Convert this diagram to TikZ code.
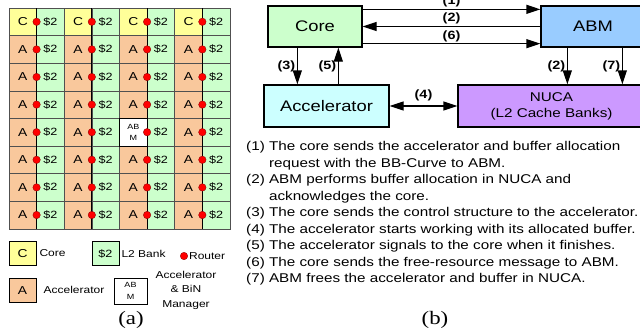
\documentclass[tikz,border=0pt]{standalone}
\usepackage{fontspec}
\setmainfont[FakeStretch=1.2]{Liberation Sans}
\newfontfamily\capfont[FakeStretch=1.2]{Liberation Serif}
\usetikzlibrary{positioning}
\usetikzlibrary{arrows.meta}
\definecolor{coreyel}{HTML}{FFFF99}
\definecolor{accorange}{HTML}{F9C89C}
\definecolor{bankgreen}{HTML}{CCFFCC}
\definecolor{abmblue}{HTML}{99CCFF}
\definecolor{acccyan}{HTML}{CCFFFF}
\definecolor{nucapurple}{HTML}{CC99FF}
\definecolor{gridgray}{HTML}{505050}

\begin{document}
\begin{tikzpicture}[x=1pt,y=-1pt,
  cell/.style={draw=gridgray,line width=0.6pt,minimum width=27.6pt,minimum height=27.6pt,inner sep=0pt,outer sep=0pt,anchor=north west,font=\fontsize{11.5}{11.5}\selectfont},
  bank/.style={cell,fill=bankgreen,font=\fontsize{10.5}{10.5}\selectfont},
  router/.style={circle,fill=red,draw=red!50!black,line width=0.3pt,minimum size=7.5pt,inner sep=0pt},
  link/.style={line width=1pt,black},
  key/.style={draw=black,line width=0.6pt,minimum width=27pt,minimum height=23.5pt,inner sep=0pt},
  keytext/.style={font=\fontsize{10}{12.5}\selectfont,inner sep=1pt},
  block/.style={draw,line width=1.3pt,minimum height=41pt,inner sep=0pt,font=\fontsize{15.3}{15.3}\selectfont},
  arr/.style={line width=1.3pt,-{Triangle[length=14pt,width=9pt]}},
  dblarr/.style={line width=1.3pt,{Triangle[length=14pt,width=9pt]}-{Triangle[length=14pt,width=9pt]}},
  lbl/.style={font=\bfseries\fontsize{12}{12}\selectfont,inner sep=1.5pt}]
  \useasboundingbox (0,0) rectangle (640,335);
  % mesh of tiles
  \foreach \i in {0,...,3}{
    \foreach \j in {0,...,7}{
      \ifnum\j=0
        \node[cell,fill=coreyel] (pe-\i-\j) at (9+55.25*\i,8+27.6*\j) {C};
      \else
        \node[cell,fill=accorange] (pe-\i-\j) at (9+55.25*\i,8+27.6*\j) {A};
      \fi
      \node[bank,right=0pt of pe-\i-\j] (l2-\i-\j) {\$2};
    }
  }
  \node[cell,fill=white,draw=black,line width=1pt,font=\fontsize{7.5}{9}\selectfont,align=center] (pe-2-4) at (9+55.25*2,8+27.6*4) {AB\\[2.5pt]M};
  \foreach \i in {0,...,3}{
    \draw[link] (pe-\i-0.north east) -- (pe-\i-7.south east);
    \foreach \j in {0,...,7}
      \node[router] (r-\i-\j) at (pe-\i-\j.east) {};
  }
  % legend
  \node[key,fill=coreyel,font=\fontsize{11.5}{11.5}\selectfont] (kc) at (22.5,253.5) {C};
  \node[keytext,right=2pt of kc] (kct) {Core};
  \node[key,fill=bankgreen,font=\fontsize{10.5}{10.5}\selectfont] (kb) at (105.5,253.5) {\$2};
  \node[keytext,right=1pt of kb] (kbt) {L2 Bank};
  \node[router] (kr) at (184,256) {};
  \node[keytext,right=0pt of kr] (krt) {Router};
  \node[key,fill=accorange,font=\fontsize{11.5}{11.5}\selectfont] (ka) at (22.5,290.5) {A};
  \node[keytext] (kat) at (74,290) {Accelerator};
  \node[key,fill=white,minimum width=33pt,minimum height=26pt,align=center,font=\fontsize{7.5}{9}\selectfont] (km) at (130.5,291) {AB\\[2.5pt]M};
  \node[keytext,align=center,font=\fontsize{10}{14.5}\selectfont] (kmt) at (186,290) {Accelerator\\\& BiN\\Manager};
  \node[font=\capfont\fontsize{19}{19}\selectfont] (capa) at (131,320) {(a)};
  % flow
  \node[block,fill=bankgreen,minimum width=94pt] (core) at (315,26.5) {Core};
  \node[block,fill=abmblue,minimum width=104pt] (abm) at (593,26.5) {ABM};
  \node[block,fill=acccyan,minimum width=125pt,minimum height=42pt] (acc) at (326.5,106) {Accelerator};
  \node[block,fill=nucapurple,minimum width=187pt,minimum height=42pt,align=center,font=\fontsize{12.7}{16}\selectfont] (nuca) at (551.5,106) {NUCA\\(L2 Cache Banks)};
  \draw[arr] ([yshift=-4pt]core.north east) -- node[lbl,above]{(1)} ([yshift=-4pt]abm.north west);
  \draw[arr] (abm.west) -- node[lbl,above]{(2)} (core.east);
  \draw[arr] ([yshift=4pt]core.south east) -- node[lbl,above]{(6)} ([yshift=4pt]abm.south west);
  \draw[arr] ([xshift=30pt]core.south west) -- node[lbl,left]{(3)} ([xshift=30pt]core.south west |- acc.north);
  \draw[arr] ([xshift=75pt]acc.north west) -- node[lbl,left]{(5)} ([xshift=75pt]acc.north west |- core.south);
  \draw[arr] ([xshift=27pt]abm.south west) -- node[lbl,left]{(2)} ([xshift=27pt]abm.south west |- nuca.north);
  \draw[arr] ([xshift=82pt]abm.south west) -- node[lbl,left]{(7)} ([xshift=82pt]abm.south west |- nuca.north);
  \draw[dblarr] (acc.east) -- node[lbl,above=3pt]{(4)} (nuca.west);
  % steps
  \node[anchor=north west,inner sep=0pt,align=left,font=\fontsize{12.7}{16.5}\selectfont] (steps) at (246,141.5)
    {(1) The core sends the accelerator and buffer allocation\\
     \phantom{(1) }request with the BB-Curve to ABM.\\
     (2) ABM performs buffer allocation in NUCA and\\
     \phantom{(2) }acknowledges the core.\\
     (3) The core sends the control structure to the accelerator.\\
     (4) The accelerator starts working with its allocated buffer.\\
     (5) The accelerator signals to the core when it finishes.\\
     (6) The core sends the free-resource message to ABM.\\
     (7) ABM frees the accelerator and buffer in NUCA.};
  \node[font=\capfont\fontsize{19}{19}\selectfont] (capb) at (435,320) {(b)};
\end{tikzpicture}
\end{document}
